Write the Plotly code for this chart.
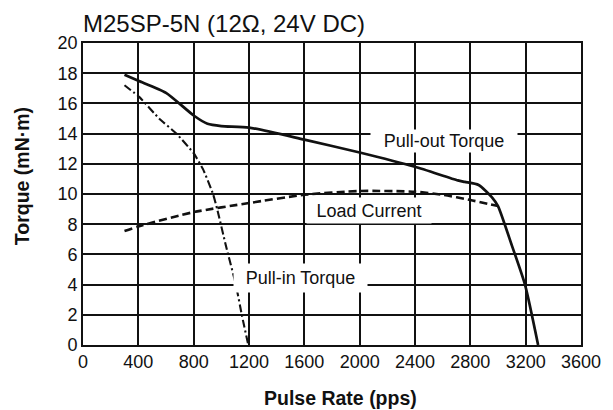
import plotly.graph_objects as go

# Data
pull_out_x = [300, 400, 600, 800, 900, 1000, 1200, 1600, 2000, 2400, 2710, 2760, 2860, 2955, 3000, 3100, 3195, 3290]
pull_out_y = [17.9, 17.5, 16.7, 15.2, 14.65, 14.5, 14.4, 13.6, 12.75, 11.8, 10.9, 10.8, 10.6, 9.8, 9.2, 6.6, 4.0, 0.0]

pull_in_x = [300, 410, 550, 675, 800, 870, 940, 970, 1035, 1105, 1150, 1195]
pull_in_y = [17.2, 16.4, 15.0, 14.0, 12.7, 11.6, 10.0, 9.0, 6.5, 4.0, 1.9, 0.0]

load_x = [300, 400, 800, 1200, 1600, 2000, 2400, 2600, 2800, 3000]
load_y = [7.55, 7.85, 8.8, 9.4, 9.95, 10.2, 10.15, 9.95, 9.6, 9.2]

x_ticks = [0, 400, 800, 1200, 1600, 2000, 2400, 2800, 3200, 3600]
y_ticks = [0, 2, 4, 6, 8, 10, 12, 14, 16, 18, 20]

title_text = "M25SP-5N (12Ω, 24V DC)"
x_title = "Pulse Rate (pps)"
y_title = "Torque (mN·m)"

labels = [
    # text, x, y, box width, box height
    ("Pull-out Torque", 2606, 13.51, 146, 22),
    ("Load Current", 2066, 8.91, 124, 25),
    ("Pull-in Torque", 1573, 4.47, 133, 28),
]

FONT = "Liberation Sans, Arial, Helvetica, sans-serif"
INK = "#111111"

fig = go.Figure()
fig.add_trace(go.Scatter(x=load_x, y=load_y, mode="lines",
                         line=dict(color=INK, width=2.6, dash="8px,4px", shape="spline", smoothing=0.6),
                         showlegend=False, hoverinfo="skip"))
fig.add_trace(go.Scatter(x=pull_in_x, y=pull_in_y, mode="lines",
                         line=dict(color=INK, width=2.1, dash="8px,3px,2px,3px", shape="spline", smoothing=0.4),
                         showlegend=False, hoverinfo="skip"))
fig.add_trace(go.Scatter(x=pull_out_x, y=pull_out_y, mode="lines",
                         line=dict(color=INK, width=2.7, shape="spline", smoothing=0.6),
                         showlegend=False, hoverinfo="skip"))

for text, lx, ly, w, h in labels:
    fig.add_annotation(x=lx, y=ly, xref="x", yref="y", text=text, showarrow=False,
                       width=w, height=h, bgcolor="white", borderpad=0,
                       font=dict(family=FONT, size=18, color=INK))

fig.add_annotation(x=(342 - 83) / 500, y=(345 - 397.5) / 302, xref="paper", yref="paper",
                   text="<b>" + x_title + "</b>", showarrow=False,
                   xanchor="center", yanchor="middle",
                   font=dict(family=FONT, size=19.5, color=INK))
fig.add_annotation(x=(22 - 83) / 500, y=(345 - 176) / 302, xref="paper", yref="paper",
                   text="<b>" + y_title + "</b>", showarrow=False, textangle=-90,
                   xanchor="center", yanchor="middle",
                   font=dict(family=FONT, size=19.5, color=INK))

axis_common = dict(showgrid=True, gridcolor=INK, gridwidth=1.5, zeroline=False,
                   showline=True, linecolor=INK, linewidth=1.6, mirror=True,
                   ticks="", tickfont=dict(family=FONT, size=18, color=INK))

fig.update_xaxes(range=[0, 3600], tickvals=x_ticks, ticktext=[str(v) for v in x_ticks], **axis_common)
fig.update_yaxes(range=[0, 20], tickvals=y_ticks, ticktext=[str(v) for v in y_ticks], **axis_common)

fig.update_layout(
    width=613, height=410,
    margin=dict(l=83, r=30, t=43, b=65),
    paper_bgcolor="white", plot_bgcolor="white",
    title=dict(text=title_text, x=83 / 613, xanchor="left", xref="container",
               y=1 - 24 / 410, yanchor="middle",
               font=dict(family=FONT, size=24, color=INK)),
    font=dict(family=FONT, color=INK),
)

fig.write_html("out.html",
               config={"displayModeBar": False},
               post_script="document.body.style.margin='0';document.body.style.overflow='hidden';")
